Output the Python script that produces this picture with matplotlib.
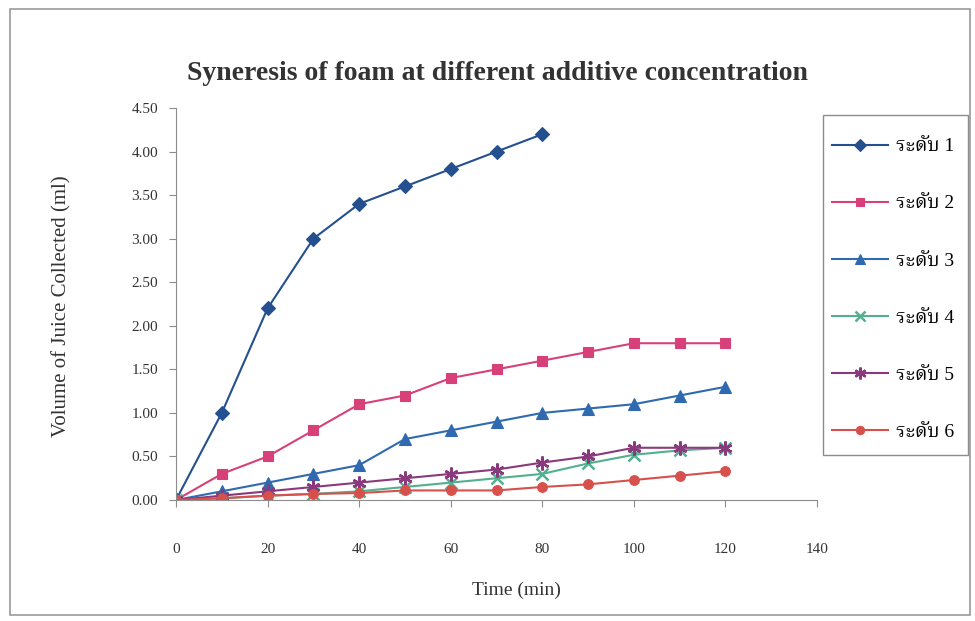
import matplotlib
matplotlib.use("Agg")
import matplotlib.pyplot as plt
from matplotlib.patches import Rectangle

# time (min)
time = [0, 10, 20, 30, 40, 50, 60, 70, 80, 90, 100, 110, 120]
time_l1 = [0, 10, 20, 30, 40, 50, 60, 70, 80]

# volume of juice collected (ml)
level1 = [0.00, 1.00, 2.20, 3.00, 3.40, 3.60, 3.80, 4.00, 4.20]
level2 = [0.00, 0.30, 0.50, 0.80, 1.10, 1.20, 1.40, 1.50, 1.60, 1.70, 1.80, 1.80, 1.80]
level3 = [0.00, 0.10, 0.20, 0.30, 0.40, 0.70, 0.80, 0.90, 1.00, 1.05, 1.10, 1.20, 1.30]
level4 = [0.00, 0.02, 0.05, 0.07, 0.10, 0.15, 0.20, 0.25, 0.30, 0.42, 0.52, 0.57, 0.60]
level5 = [0.00, 0.05, 0.10, 0.15, 0.20, 0.25, 0.30, 0.35, 0.43, 0.50, 0.60, 0.60, 0.60]
level6 = [0.00, 0.02, 0.05, 0.07, 0.08, 0.11, 0.11, 0.11, 0.15, 0.18, 0.23, 0.28, 0.33]

labels = ["ระดับ 1", "ระดับ 2", "ระดับ 3", "ระดับ 4", "ระดับ 5", "ระดับ 6"]
x_ticks = [0, 20, 40, 60, 80, 100, 120, 140]
y_ticks = [0.0, 0.5, 1.0, 1.5, 2.0, 2.5, 3.0, 3.5, 4.0, 4.5]

serif = ["Liberation Serif", "Noto Serif Thai", "Noto Sans Thai", "DejaVu Sans"]
plt.rcParams["font.family"] = serif

W, H = 975, 621
fig = plt.figure(figsize=(W / 100, H / 100), dpi=100)
# chart area border
fig.patches.append(Rectangle((0.01, 0.01), 0.985, 0.975, transform=fig.transFigure,
                             fill=False, edgecolor="#9a9a9a", linewidth=1.2))
# legend border
fig.patches.append(Rectangle((823 / W, 1 - 455 / H), 145 / W, 340 / H,
                             transform=fig.transFigure, fill=False,
                             edgecolor="#8c8c8c", linewidth=1.0))

ax = fig.add_axes([0.1805, 0.1948, 0.6575, 0.6312])

series = [
    (time_l1, level1, "#24508f", "D", 7),
    (time, level2, "#d8407a", "s", 7),
    (time, level3, "#2f6ab0", "^", 8),
    (time, level4, "#52b08f", "x", 8),
    (time, level5, "#8a3a7c", (6, 2, 0), 10),
    (time, level6, "#d8504c", "o", 7),
]
for (t, v, c, m, ms), lab in zip(series, labels):
    ax.plot(t, v, color=c, marker=m, markersize=ms, linewidth=1.5,
            markeredgewidth=1.8 if m in ("x", (6, 2, 0)) else 0.8,
            markeredgecolor=c, label=lab)

ax.set_xlim(0, 140)
ax.set_ylim(0, 4.5)
ax.set_xticks(x_ticks)
ax.set_yticks(y_ticks)
ax.set_yticklabels(["%.2f" % y for y in y_ticks])
ax.spines["top"].set_visible(False)
ax.spines["right"].set_visible(False)
for s in ("left", "bottom"):
    ax.spines[s].set_color("#8c8c8c")
ax.tick_params(axis="x", direction="out", length=5, color="#8c8c8c", pad=26,
               labelsize=11, labelcolor="#333333")
ax.tick_params(axis="y", direction="out", length=5, color="#8c8c8c", pad=8,
               labelsize=11, labelcolor="#333333")

fig.text(516 / W, 1 - 590 / H, "Time (min)", ha="center", va="center",
         fontsize=14, color="#333333")
fig.text(62 / W, 1 - 306 / H, "Volume of Juice Collected (ml)", ha="center",
         va="center", rotation=90, fontsize=15, color="#333333")
fig.text(497 / W, 1 - 73 / H, "Syneresis of foam at different additive concentration",
         ha="center", va="center", fontsize=20, fontweight="bold", color="#333333")

leg = fig.legend(loc="upper left", bbox_to_anchor=(823 / W, 1 - 129 / H), fontsize=14,
                 labelspacing=2.03, handlelength=2.9, handletextpad=0.4,
                 borderpad=0.45, borderaxespad=0, frameon=False, markerscale=0.85)

fig.savefig("out.png", dpi=100)
